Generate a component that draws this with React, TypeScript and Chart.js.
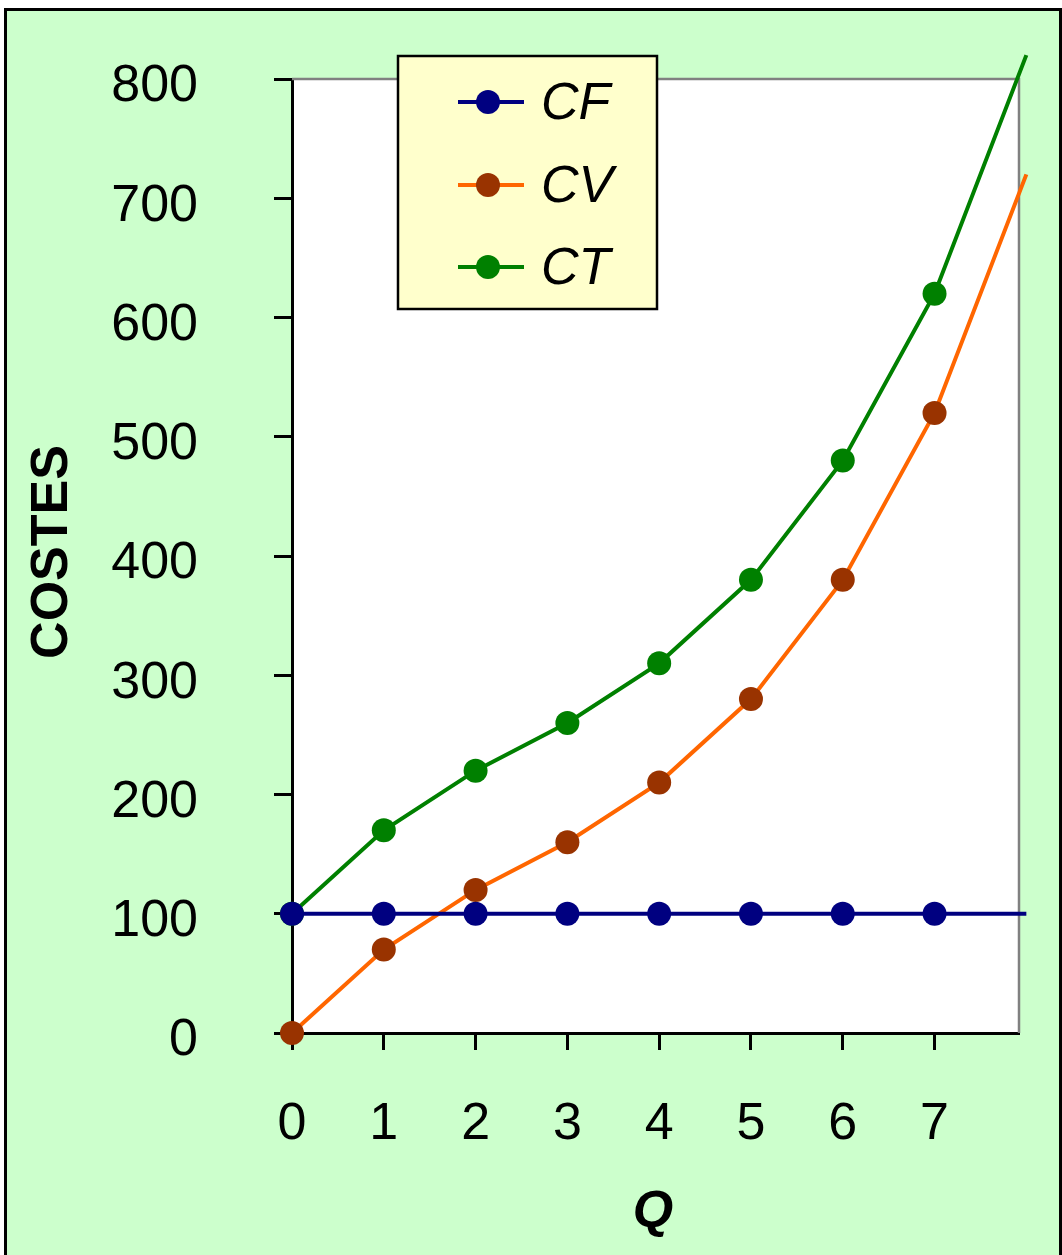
import React, { useEffect, useRef } from "react";
import { Chart, registerables } from "chart.js";

Chart.register(...registerables);

const quantities = [0, 1, 2, 3, 4, 5, 6, 7, 8];
const cfValues = [100, 100, 100, 100, 100, 100, 100, 100, 100];
const cvValues = [0, 70, 120, 160, 210, 280, 380, 520, 720];
const ctValues = [100, 170, 220, 260, 310, 380, 480, 620, 820];
const xTickValues = [0, 1, 2, 3, 4, 5, 6, 7];
const seriesNames = ["CF", "CV", "CT"];
const yTitle = "COSTES";
const xTitle = "Q";

const FONT = "'Liberation Sans', Arial, sans-serif";
const W = 1062;
const H = 1255;

const lineColors = ["#000080", "#FF6600", "#008000"];
const markerColors = ["#000080", "#993300", "#008000"];

const decorPlugin = {
  id: "decor",
  beforeDraw(chart: any) {
    const ctx = chart.ctx;
    const a = chart.chartArea;
    ctx.save();
    ctx.fillStyle = "#ffffff";
    ctx.fillRect(0, 0, W, H);
    ctx.fillStyle = "#CCFFCC";
    ctx.fillRect(5, 9, W - 8, H);
    ctx.strokeStyle = "#000000";
    ctx.lineWidth = 3;
    ctx.strokeRect(5.5, 9.5, W - 7, H + 20);
    ctx.fillStyle = "#ffffff";
    ctx.fillRect(a.left, a.top, a.right - a.left, a.bottom - a.top);
    ctx.restore();
  },
  beforeDatasetsDraw(chart: any) {
    const ctx = chart.ctx;
    const a = chart.chartArea;
    ctx.save();
    ctx.strokeStyle = "#808080";
    ctx.lineWidth = 2.5;
    ctx.beginPath();
    ctx.moveTo(a.left, a.top);
    ctx.lineTo(a.right, a.top);
    ctx.lineTo(a.right, a.bottom);
    ctx.stroke();
    ctx.restore();
  },
  afterDraw(chart: any) {
    const ctx = chart.ctx;
    ctx.save();
    // legend box
    ctx.fillStyle = "#FFFFCC";
    ctx.fillRect(398, 56, 259, 253);
    ctx.strokeStyle = "#000000";
    ctx.lineWidth = 2.5;
    ctx.strokeRect(398, 56, 259, 253);
    const rows = [102, 185, 267];
    chart.data.datasets.forEach((ds: any, i: number) => {
      const y = rows[i];
      ctx.strokeStyle = ds.borderColor;
      ctx.lineWidth = 4;
      ctx.beginPath();
      ctx.moveTo(458, y);
      ctx.lineTo(524, y);
      ctx.stroke();
      ctx.fillStyle = ds.pointBackgroundColor;
      ctx.beginPath();
      ctx.arc(488, y, 12, 0, Math.PI * 2);
      ctx.fill();
      ctx.fillStyle = "#000000";
      ctx.font = `italic 52px ${FONT}`;
      ctx.textAlign = "left";
      ctx.textBaseline = "middle";
      ctx.fillText(ds.label, 541, y + 3);
    });
    // y title
    ctx.fillStyle = "#000000";
    ctx.font = `bold 52px ${FONT}`;
    ctx.textAlign = "center";
    ctx.textBaseline = "middle";
    ctx.save();
    ctx.translate(53, 552);
    ctx.rotate(-Math.PI / 2);
    ctx.fillText(yTitle, 0, 0);
    ctx.restore();
    // x title
    ctx.font = `italic bold 52px ${FONT}`;
    ctx.fillText(xTitle, 653, 1213);
    ctx.restore();
  },
};

export default function App() {
  const ref = useRef<HTMLCanvasElement | null>(null);
  useEffect(() => {
    if (!ref.current) return;
    const series = [cfValues, cvValues, ctValues];
    const chart = new Chart(ref.current, {
      type: "line",
      data: {
        datasets: series.map((vals, i) => ({
          label: seriesNames[i],
          data: quantities.map((q, j) => ({ x: q, y: vals[j] })),
          borderColor: lineColors[i],
          backgroundColor: markerColors[i],
          pointBackgroundColor: markerColors[i],
          pointBorderColor: markerColors[i],
          pointBorderWidth: 0,
          pointRadius: quantities.map((q) => (q <= 7 ? 12 : 0)),
          borderWidth: 4,
          tension: 0,
          clip: false as any,
        })),
      },
      options: {
        responsive: false,
        animation: false,
        events: [],
        layout: { padding: { left: 0, top: 79, right: 43, bottom: 0 } },
        plugins: {
          legend: { display: false },
          tooltip: { enabled: false },
        },
        scales: {
          x: {
            type: "linear",
            min: 0,
            max: 7.92,
            afterBuildTicks: (s: any) => {
              s.ticks = xTickValues.map((v) => ({ value: v }));
            },
            afterFit: (s: any) => {
              s.height = H - 1033;
              s.paddingLeft = 0;
              s.paddingRight = 0;
            },
            grid: {
              drawOnChartArea: false,
              tickLength: 17,
              tickColor: "#000000",
              tickWidth: 3,
            },
            border: { color: "#000000", width: 3 },
            ticks: {
              color: "#000000",
              font: { family: FONT, size: 52 },
              padding: 43,
              maxRotation: 0,
            },
          },
          y: {
            type: "linear",
            min: 0,
            max: 800,
            afterFit: (s: any) => {
              s.width = 292;
              s.paddingTop = 0;
              s.paddingBottom = 0;
            },
            grid: {
              drawOnChartArea: false,
              tickLength: 18,
              tickColor: "#000000",
              tickWidth: 3,
            },
            border: { color: "#000000", width: 3 },
            ticks: {
              stepSize: 100,
              color: "#000000",
              font: { family: FONT, size: 52 },
              padding: 76,
              labelOffset: 8,
            },
          },
        },
      },
      plugins: [decorPlugin],
    });
    return () => chart.destroy();
  }, []);
  return (
    <div style={{ position: "absolute", left: 0, top: 0, width: W, height: H }}>
      <canvas ref={ref} width={W} height={H} style={{ width: W, height: H, display: "block" }} />
    </div>
  );
}
